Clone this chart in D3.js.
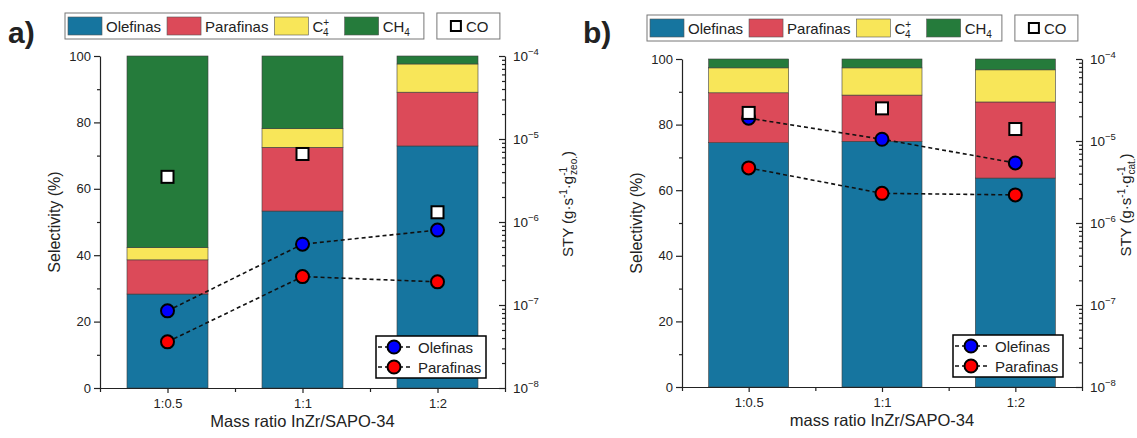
<!DOCTYPE html>
<html>
<head>
<meta charset="utf-8">
<script src="https://cdn.jsdelivr.net/npm/d3@7"></script>
<style>
  body { margin: 0; background: #fff; }
  text { font-family: "Liberation Sans", Arial, sans-serif; fill: #222; }
</style>
</head>
<body>
<svg id="chart" width="1137" height="438"></svg>
<script>
// ---- data ----
const categories = ["1:0.5", "1:1", "1:2"];
const selTicks = [0, 20, 40, 60, 80, 100];
const styTicks = [1e-8, 1e-7, 1e-6, 1e-5, 1e-4];

// selectivity (%) segments, panel a
const olefinasA = [28.3, 53.3, 72.9];
const parafinasA = [10.3, 19.2, 16.2];
const c4A = [3.7, 5.6, 8.5];
const ch4A = [57.7, 21.9, 2.4];
// STY, panel a
const coA = [3.5e-6, 6.6e-6, 1.31e-6];
const styOlefinasA = [8.5e-8, 5.4e-7, 8.0e-7];
const styParafinasA = [3.6e-8, 2.2e-7, 1.9e-7];

// selectivity (%) segments, panel b
const olefinasB = [74.5, 74.9, 63.7];
const parafinasB = [15.2, 14.1, 23.2];
const c4B = [7.6, 8.3, 9.8];
const ch4B = [2.7, 2.7, 3.3];
// STY, panel b
const coB = [2.2e-5, 2.5e-5, 1.4e-5];
const styOlefinasB = [1.9e-5, 1.05e-5, 5.4e-6];
const styParafinasB = [4.7e-6, 2.3e-6, 2.2e-6];

const keys = ["Olefinas", "Parafinas", "C4", "CH4"];
const color = { Olefinas: "#16759f", Parafinas: "#dc4a59", C4: "#f8e659", CH4: "#257b3b" };
const axisColor = "#222";

const svg = d3.select("#chart");

// append text made of pieces (for sub / superscripts)
function rich(text, parts) {
  parts.forEach(p => {
    const t = text.append("tspan").text(p.t);
    if (p.size) t.attr("font-size", p.size);
    if (p.dx) t.attr("dx", p.dx);
    if (p.dy) t.attr("dy", p.dy);
  });
  return text;
}

function drawPanel(p) {
  const g = svg.append("g");

  const x = d3.scaleLinear().domain([0.5, 3.5]).range([p.left, p.right]);
  const y = d3.scaleLinear().domain([0, 100]).range([p.bottom, p.top]);
  const yLog = d3.scaleLog().domain([1e-8, 1e-4]).range([p.bottom, p.top]);
  const barW = (x(2) - x(1)) * 0.6;

  const rows = categories.map((c, i) => ({
    idx: i + 1,
    Olefinas: p.sel[0][i], Parafinas: p.sel[1][i], C4: p.sel[2][i], CH4: p.sel[3][i]
  }));
  const stacked = d3.stack().keys(keys)(rows);

  g.append("g").selectAll("g")
    .data(stacked)
    .join("g")
      .attr("fill", d => color[d.key])
    .selectAll("rect")
    .data(d => d)
    .join("rect")
      .attr("x", d => x(d.data.idx) - barW / 2)
      .attr("width", barW)
      .attr("y", d => y(d[1]))
      .attr("height", d => y(d[0]) - y(d[1]))
      .attr("stroke", "#3c3c3c")
      .attr("stroke-width", 0.6);

  // left axis
  g.append("g")
    .attr("transform", `translate(${p.left},0)`)
    .call(d3.axisLeft(y).tickValues([10, 30, 50, 70, 90]).tickSize(3).tickFormat(""))
    .call(a => a.select(".domain").remove());
  g.append("g")
    .attr("transform", `translate(${p.left},0)`)
    .call(d3.axisLeft(y).tickValues(selTicks).tickSize(6).tickSizeOuter(0).tickPadding(3))
    .call(a => a.selectAll("text").attr("font-size", 13).attr("fill", axisColor)
      .style("font-family", "Liberation Sans, Arial, sans-serif"));

  // right log axis (ticks inward)
  const minor = [];
  for (let e = -8; e < -4; e++) for (let m = 2; m <= 9; m++) minor.push(m * Math.pow(10, e));
  g.append("g")
    .attr("transform", `translate(${p.right},0)`)
    .call(d3.axisLeft(yLog).tickValues(minor).tickSize(3).tickFormat(""))
    .call(a => a.select(".domain").remove());
  g.append("g")
    .attr("transform", `translate(${p.right},0)`)
    .call(d3.axisLeft(yLog).tickValues(styTicks).tickSize(6).tickSizeOuter(0).tickFormat(""));
  styTicks.forEach(v => {
    const t = g.append("text")
      .attr("x", p.right + 8)
      .attr("y", yLog(v) + 5)
      .attr("font-size", 13.5);
    rich(t, [{ t: "10" }, { t: "\u2212" + Math.round(-Math.log10(v)), size: 9.5, dy: -6 }]);
  });

  // bottom axis
  g.append("g")
    .attr("transform", `translate(0,${p.bottom})`)
    .call(d3.axisBottom(x).tickValues([0.5, 1.5, 2.5, 3.5]).tickSize(4).tickFormat(""))
    .call(a => a.select(".domain").remove());
  g.append("g")
    .attr("transform", `translate(0,${p.bottom})`)
    .call(d3.axisBottom(x).tickValues([1, 2, 3]).tickSize(5).tickSizeOuter(0)
      .tickPadding(6).tickFormat(d => categories[d - 1]))
    .call(a => a.selectAll("text").attr("font-size", 13).attr("fill", axisColor)
      .style("font-family", "Liberation Sans, Arial, sans-serif"));

  g.selectAll(".domain, .tick line").attr("stroke", axisColor).attr("stroke-width", 1.2);

  // axis titles
  g.append("text")
    .attr("transform", `translate(${p.left - 46},${(p.top + p.bottom) / 2}) rotate(-90)`)
    .attr("text-anchor", "middle")
    .attr("dy", "0.35em")
    .attr("font-size", 16)
    .text("Selectivity (%)");

  g.append("text")
    .attr("x", (p.left + p.right) / 2)
    .attr("y", p.bottom + 39)
    .attr("text-anchor", "middle")
    .attr("font-size", 16.5)
    .text(p.xTitle);

  const rt = g.append("text")
    .attr("transform", `translate(${p.right + p.rTitleDx},${(p.top + p.bottom) / 2 - 18}) rotate(-90)`)
    .attr("text-anchor", "middle")
    .attr("dy", "0.35em")
    .attr("font-size", 15);
  rich(rt, [
    { t: "STY (g\u00b7s" },
    { t: "-1", size: 10, dy: -6 },
    { t: "\u00b7g", dy: 6 },
    { t: "-1", size: 10, dy: -6 },
    { t: p.sub, size: 10, dx: -8, dy: 10 },
    { t: ")", dy: -4 }
  ]);

  // dashed connecting lines + circles
  const line = d3.line().x((d, i) => x(i + 1)).y(d => yLog(d));
  [p.styPar, p.styOlef].forEach(s => {
    g.append("path")
      .attr("d", line(s))
      .attr("fill", "none")
      .attr("stroke", "#111")
      .attr("stroke-width", 1.6)
      .attr("stroke-dasharray", "4,3");
  });
  [[p.styPar, "#ff0000"], [p.styOlef, "#0000ff"]].forEach(([s, c]) => {
    g.append("g").selectAll("circle")
      .data(s)
      .join("circle")
        .attr("cx", (d, i) => x(i + 1))
        .attr("cy", d => yLog(d))
        .attr("r", 6.5)
        .attr("fill", c)
        .attr("stroke", "#000")
        .attr("stroke-width", 2);
  });
  // CO squares
  g.append("g").selectAll("rect")
    .data(p.co)
    .join("rect")
      .attr("x", (d, i) => x(i + 1) - 6)
      .attr("y", d => yLog(d) - 6)
      .attr("width", 12)
      .attr("height", 12)
      .attr("fill", "#fff")
      .attr("stroke", "#000")
      .attr("stroke-width", 2);

  // panel letter
  g.append("text")
    .attr("x", p.left + p.letterDx)
    .attr("y", 43)
    .attr("font-size", 30)
    .attr("font-weight", "bold")
    .attr("fill", "#000")
    .text(p.letter);

  // top legend
  const lg = g.append("g");
  const ly = p.legendY;
  const box = lg.append("rect")
    .attr("x", p.left - 35).attr("y", ly).attr("height", 26)
    .attr("fill", "#fff").attr("stroke", "#777").attr("stroke-width", 1);
  let cx = p.left - 32;
  const labels = {
    Olefinas: [{ t: "Olefinas" }],
    Parafinas: [{ t: "Parafinas" }],
    C4: [{ t: "C" }, { t: "+", size: 10, dy: -6 }, { t: "4", size: 10, dx: -6, dy: 10 }],
    CH4: [{ t: "CH" }, { t: "4", size: 10, dy: 4 }]
  };
  const gaps = { Olefinas: 6, Parafinas: 6, C4: 10, CH4: 0 };
  keys.forEach(k => {
    lg.append("rect")
      .attr("x", cx).attr("y", ly + 4).attr("width", 34).attr("height", 18)
      .attr("fill", color[k]).attr("stroke", "#555").attr("stroke-width", 0.6);
    const t = lg.append("text").attr("x", cx + 38).attr("y", ly + 19).attr("font-size", 15);
    rich(t, labels[k]);
    cx += 38 + t.node().getComputedTextLength() + gaps[k];
  });
  box.attr("width", cx - (p.left - 35) + p.legendPad);
  const coX = cx + p.legendPad + 13;
  lg.append("rect")
    .attr("x", coX).attr("y", ly).attr("width", 63).attr("height", 26)
    .attr("fill", "#fff").attr("stroke", "#777").attr("stroke-width", 1);
  lg.append("rect")
    .attr("x", coX + 14).attr("y", ly + 8).attr("width", 10).attr("height", 10)
    .attr("fill", "#fff").attr("stroke", "#000").attr("stroke-width", 2);
  lg.append("text").attr("x", coX + 29).attr("y", ly + 19).attr("font-size", 15).text("CO");

  // inner legend
  const il = g.append("g").attr("transform", `translate(${p.right - 129},${p.bottom - 52})`);
  il.append("rect")
    .attr("width", 110).attr("height", 42)
    .attr("fill", "#fff").attr("stroke", "#000").attr("stroke-width", 1.5);
  [["Olefinas", "#0000ff", 11], ["Parafinas", "#ff0000", 31]].forEach(([name, c, yy]) => {
    il.append("line")
      .attr("x1", 2).attr("x2", 34).attr("y1", yy).attr("y2", yy)
      .attr("stroke", "#111").attr("stroke-width", 1.6).attr("stroke-dasharray", "4,3");
    il.append("circle")
      .attr("cx", 18).attr("cy", yy).attr("r", 6.5)
      .attr("fill", c).attr("stroke", "#000").attr("stroke-width", 2);
    il.append("text").attr("x", 42).attr("y", yy + 5.5).attr("font-size", 15).text(name);
  });
}

drawPanel({
  left: 100, right: 505, top: 56, bottom: 388,
  sel: [olefinasA, parafinasA, c4A, ch4A],
  co: coA, styOlef: styOlefinasA, styPar: styParafinasA,
  xTitle: "Mass ratio InZr/SAPO-34", sub: "zeo.", rTitleDx: 63,
  letter: "a)", letterDx: -92, legendY: 13, legendPad: 14
});

drawPanel({
  left: 682, right: 1082, top: 59, bottom: 387,
  sel: [olefinasB, parafinasB, c4B, ch4B],
  co: coB, styOlef: styOlefinasB, styPar: styParafinasB,
  xTitle: "mass ratio InZr/SAPO-34", sub: "cat.", rTitleDx: 44,
  letter: "b)", letterDx: -99, legendY: 15, legendPad: 10
});
</script>
</body>
</html>
